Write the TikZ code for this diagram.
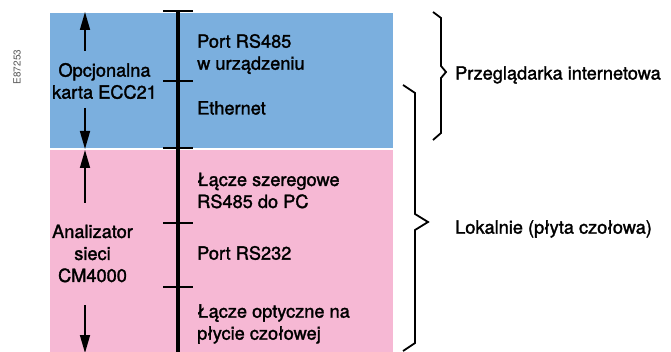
\documentclass[tikz,border=0pt]{standalone}
\usepackage{fontspec}
\setmainfont{TeX Gyre Heros}
\newfontfamily\lblfont{TeX Gyre Heros}[FakeBold=1.6]
\usetikzlibrary{arrows.meta}
\definecolor{topblue}{RGB}{123,175,222}
\definecolor{botpink}{RGB}{246,184,212}
\definecolor{codegrey}{RGB}{90,90,90}
\tikzset{
  lbl/.style={font=\lblfont\fontsize{18.2}{22}\selectfont, inner sep=0pt, text=black},
  leftlbl/.style={lbl, anchor=west, align=left},
  midlbl/.style={lbl, align=center},
  bus/.style={line width=3.2pt, black},
  tick/.style={line width=2.4pt, black},
  dimarrow/.style={line width=1.6pt, -{Triangle[length=18pt,width=10pt]}},
  brace/.style={line width=1.8pt, line join=miter, black}
}
\begin{document}
\begin{tikzpicture}[x=1pt,y=-1pt]
\useasboundingbox (0,0) rectangle (671,352);
% bands
\fill[topblue] (50,13) rectangle (393,148.5);
\fill[botpink] (50,150.5) rectangle (393,352);
% bus line and ticks
\coordinate (bustop) at (178,11);
\coordinate (busbot) at (178,352);
\draw[bus] (bustop) -- (busbot);
\foreach \yy in {11,81,148,223,287}{
  \draw[tick] (163,\yy) -- (193,\yy);
}
% left labels
\node[midlbl] (ecc) at (104.5,81) {Opcjonalna\\karta ECC21};
\node[midlbl] (cm) at (92.5,253.5) {Analizator\\sieci\\CM4000};
\coordinate (eccT) at (85,51);
\coordinate (eccTt) at (85,12);
\coordinate (eccB) at (85,108);
\coordinate (eccBt) at (85,149);
\coordinate (cmT) at (85,203);
\coordinate (cmTt) at (85,150);
\coordinate (cmB) at (85,305);
\coordinate (cmBt) at (85,353);
\draw[dimarrow] (eccT) -- (eccTt);
\draw[dimarrow] (eccB) -- (eccBt);
\draw[dimarrow] (cmT) -- (cmTt);
\draw[dimarrow] (cmB) -- (cmBt);
% right-of-bus labels
\node[leftlbl] (rs485) at (197,54) {Port RS485\\w urządzeniu};
\node[leftlbl] (eth) at (197,108) {Ethernet};
\node[leftlbl] (ser) at (197,190.5) {Łącze szeregowe\\RS485 do PC};
\node[leftlbl] (rs232) at (197,253) {Port RS232};
\node[leftlbl] (opt) at (197,324) {Łącze optyczne na\\płycie czołowej};
% braces
\draw[brace] (433,12) -- (441,18) -- (441,66) -- (446,72) -- (441,78) -- (441,133) -- (433,140);
\draw[brace] (403,85) -- (415,93) -- (415,214) -- (428,222) -- (415,230) -- (415,343) -- (403,351);
\node[leftlbl] (www) at (455,75) {Przeglądarka internetowa};
\node[leftlbl] (loc) at (455,229) {Lokalnie (płyta czołowa)};
% code
\node[font=\fontsize{10}{12}\selectfont, text=codegrey, rotate=90, inner sep=0pt] (code) at (17,67) {E87253};
\end{tikzpicture}
\end{document}
